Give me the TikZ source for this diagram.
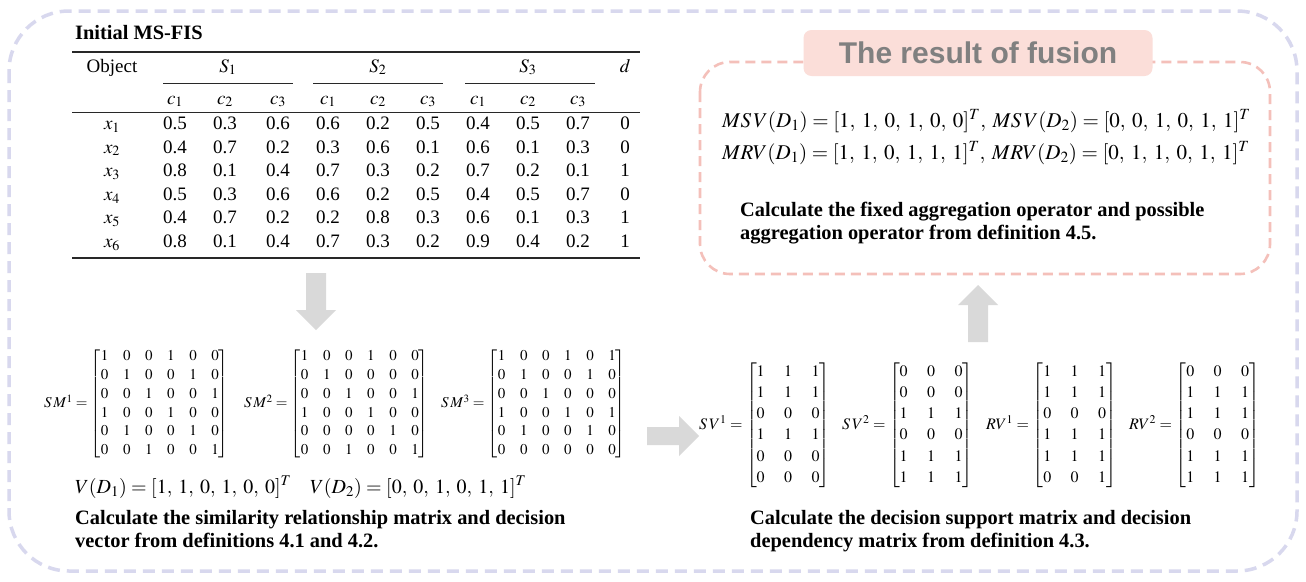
\documentclass[tikz,border=0pt]{standalone}
\usepackage{amsmath}
\usepackage{mathptmx}
\usepackage[no-math]{fontspec}
\setmainfont{Liberation Serif}
\newfontfamily\titlesans{Liberation Sans}
\definecolor{outerc}{RGB}{216,216,238}
\definecolor{pinkline}{RGB}{244,192,186}
\definecolor{pinkfill}{RGB}{251,222,217}
\definecolor{titlegray}{RGB}{128,128,128}
\definecolor{arrowgray}{RGB}{217,217,217}
\definecolor{rulec}{RGB}{40,40,40}
\newcommand{\cm}{,\mskip3.5mu}
\begin{document}
\begin{tikzpicture}[x=1pt,y=-1pt,
  tab/.style={inner sep=0pt,anchor=base,font=\fontsize{19}{22}\selectfont},
  boldline/.style={inner sep=0pt,anchor=base west,font=\bfseries\fontsize{20.4}{24}\selectfont},
  mathline/.style={inner sep=0pt,anchor=base west,font=\fontsize{20}{24}\selectfont},
  smmat/.style={inner sep=0pt,anchor=west,font=\fontsize{15}{17}\selectfont,
    execute at begin node={\setlength{\arraycolsep}{7.3pt}\renewcommand{\arraystretch}{1.1}}},
  svmat/.style={inner sep=0pt,anchor=west,font=\fontsize{16}{18}\selectfont,
    execute at begin node={\setlength{\arraycolsep}{9.7pt}\renewcommand{\arraystretch}{1.18}}},
  thickrule/.style={draw=rulec,line width=1.4pt},
  thinrule/.style={draw=rulec,line width=0.9pt},
  blockarrow/.style={fill=arrowgray},
  outerframe/.style={draw=outerc,line width=3.5pt,dash pattern=on 12pt off 7pt,rounded corners=60pt},
  resultframe/.style={draw=pinkline,line width=2.6pt,dash pattern=on 10pt off 6pt,rounded corners=30pt},
]
\useasboundingbox (0,0) rectangle (1306,581);
\fill[white] (0,0) rectangle (1306,581);

% outer frame
\draw[outerframe] (9,11) rectangle (1297,571);

% ---------- table ----------
\node[boldline] (tabtitle) at (75,39) {Initial MS-FIS};
\draw[thickrule] (72,52) -- (640,52);
\node[tab] (hobj) at (112,72) {Object};
\node[tab] (hs1) at (228,72) {$S_1$};
\node[tab] (hs2) at (378,72) {$S_2$};
\node[tab] (hs3) at (528,72) {$S_3$};
\node[tab] (hd) at (625,72) {$d$};
\draw[thinrule] (163,83) -- (293,83);
\draw[thinrule] (313,83) -- (443,83);
\draw[thinrule] (465,83) -- (595,83);
\foreach \g [count=\k from 0] in {1,2,3}{
  \foreach \j in {1,2,3}{
    \pgfmathsetmacro{\cx}{{175,225,278,328,378,428,478,528,578}[\k*3+\j-1]}
    \node[tab] (hc\g-\j) at (\cx,104) {$c_{\j}$};
  }
}
\draw[thinrule] (72,112) -- (640,112);
\foreach \r/\vals in {
  1/{0.5,0.3,0.6,0.6,0.2,0.5,0.4,0.5,0.7,0},
  2/{0.4,0.7,0.2,0.3,0.6,0.1,0.6,0.1,0.3,0},
  3/{0.8,0.1,0.4,0.7,0.3,0.2,0.7,0.2,0.1,1},
  4/{0.5,0.3,0.6,0.6,0.2,0.5,0.4,0.5,0.7,0},
  5/{0.4,0.7,0.2,0.2,0.8,0.3,0.6,0.1,0.3,1},
  6/{0.8,0.1,0.4,0.7,0.3,0.2,0.9,0.4,0.2,1}}{
  \pgfmathsetmacro{\ry}{129.5+23.6*(\r-1)}
  \node[tab] (x\r) at (112,\ry) {$x_{\r}$};
  \foreach \v [count=\c] in \vals {
    \pgfmathsetmacro{\cx}{{175,225,278,328,378,428,478,528,578,625}[\c-1]}
    \node[tab] (v\r-\c) at (\cx,\ry) {\v};
  }
}
\draw[thickrule] (72,258) -- (640,258);

% ---------- arrows ----------
\fill[blockarrow] (306,273) -- (326,273) -- (326,310) -- (336,310) -- (316,330) -- (296,310) -- (306,310) -- cycle;
\fill[blockarrow] (647,427) -- (679,427) -- (679,416) -- (699,436) -- (679,456) -- (679,445) -- (647,445) -- cycle;
\fill[blockarrow] (968,342) -- (968,305) -- (958,305) -- (978,285) -- (998,305) -- (988,305) -- (988,342) -- cycle;

% ---------- similarity matrices ----------
\node[smmat] (sm1) at (44,404) {$S\,M^{1} = \begin{bmatrix}
1&0&0&1&0&0\\ 0&1&0&0&1&0\\ 0&0&1&0&0&1\\ 1&0&0&1&0&0\\ 0&1&0&0&1&0\\ 0&0&1&0&0&1
\end{bmatrix}$};
\node[smmat] (sm2) at (244,404) {$S\,M^{2} = \begin{bmatrix}
1&0&0&1&0&0\\ 0&1&0&0&0&0\\ 0&0&1&0&0&1\\ 1&0&0&1&0&0\\ 0&0&0&0&1&0\\ 0&0&1&0&0&1
\end{bmatrix}$};
\node[smmat] (sm3) at (441,404) {$S\,M^{3} = \begin{bmatrix}
1&0&0&1&0&1\\ 0&1&0&0&1&0\\ 0&0&1&0&0&0\\ 1&0&0&1&0&1\\ 0&1&0&0&1&0\\ 0&0&0&0&0&0
\end{bmatrix}$};
\node[mathline] (vd1) at (75,493) {$V(D_1) = [1\cm 1\cm 0\cm 1\cm 0\cm 0]^T$};
\node[mathline] (vd2) at (310,493) {$V(D_2) = [0\cm 0\cm 1\cm 0\cm 1\cm 1]^T$};
\node[boldline] (calcA1) at (75,524) {Calculate the similarity relationship matrix and decision};
\node[boldline] (calcA2) at (75,547) {vector from definitions 4.1 and 4.2.};

% ---------- support / dependency matrices ----------
\node[svmat] (sv1) at (699,425) {$S\,V^{1} = \begin{bmatrix}
1&1&1\\ 1&1&1\\ 0&0&0\\ 1&1&1\\ 0&0&0\\ 0&0&0
\end{bmatrix}$};
\node[svmat] (sv2) at (842,425) {$S\,V^{2} = \begin{bmatrix}
0&0&0\\ 0&0&0\\ 1&1&1\\ 0&0&0\\ 1&1&1\\ 1&1&1
\end{bmatrix}$};
\node[svmat] (rv1) at (986,425) {$RV^{1} = \begin{bmatrix}
1&1&1\\ 1&1&1\\ 0&0&0\\ 1&1&1\\ 1&1&1\\ 0&0&1
\end{bmatrix}$};
\node[svmat] (rv2) at (1129,425) {$RV^{2} = \begin{bmatrix}
0&0&0\\ 1&1&1\\ 1&1&1\\ 0&0&0\\ 1&1&1\\ 1&1&1
\end{bmatrix}$};
\node[boldline] (calcB1) at (750,524) {Calculate the decision support matrix and decision};
\node[boldline] (calcB2) at (750,547) {dependency matrix from definition 4.3.};

% ---------- result of fusion ----------
\draw[resultframe] (700,62) rectangle (1270,274);
\node[fill=pinkfill,rounded corners=8pt,minimum width=349pt,minimum height=46pt,inner sep=0pt,
  text=titlegray,font=\titlesans\bfseries\fontsize{30}{34}\selectfont] (rtitle) at (978,53) {The result of fusion};
\node[mathline,font=\fontsize{21}{25}\selectfont] (msv) at (722,127) {$MS\,V(D_1) = [1\cm 1\cm 0\cm 1\cm 0\cm 0]^T\cm MS\,V(D_2) = [0\cm 0\cm 1\cm 0\cm 1\cm 1]^T$};
\node[mathline,font=\fontsize{21}{25}\selectfont] (mrv) at (722,159) {$MRV(D_1) = [1\cm 1\cm 0\cm 1\cm 1\cm 1]^T\cm MRV(D_2) = [0\cm 1\cm 1\cm 0\cm 1\cm 1]^T$};
\node[boldline] (calcC1) at (740,216) {Calculate the fixed aggregation operator and possible};
\node[boldline] (calcC2) at (740,239) {aggregation operator from definition 4.5.};
\end{tikzpicture}
\end{document}
